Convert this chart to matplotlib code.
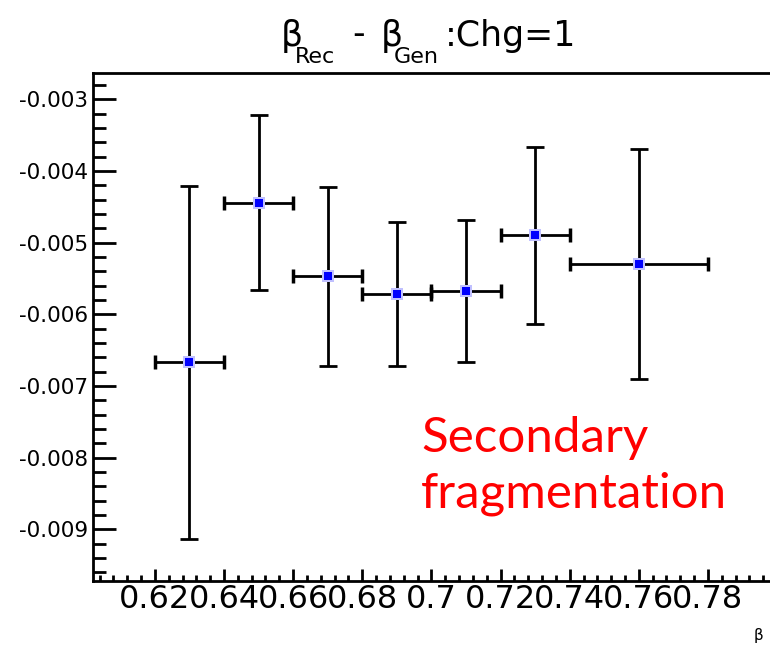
import matplotlib
matplotlib.use("Agg")
import matplotlib.pyplot as plt
import numpy as np
from matplotlib.ticker import FixedLocator, FixedFormatter, FuncFormatter

plt.rcParams['font.family'] = ['DejaVu Sans']
plt.rcParams['axes.unicode_minus'] = False

# beta bins (centres and half widths) and the mean residual per bin
beta_mid = [0.63, 0.65, 0.67, 0.69, 0.71, 0.73, 0.76]
beta_halfwidth = [0.01, 0.01, 0.01, 0.01, 0.01, 0.01, 0.02]
residual = [-0.00667, -0.00444, -0.00547, -0.005715, -0.005675, -0.00490, -0.00530]
residual_err = [0.00246, 0.00122, 0.00125, 0.00100, 0.00099, 0.00123, 0.00160]

xtick_vals = [0.62, 0.64, 0.66, 0.68, 0.70, 0.72, 0.74, 0.76, 0.78]
xtick_labels = ['0.62', '0.64', '0.66', '0.68', '0.7', '0.72', '0.74', '0.76', '0.78']
ytick_vals = [-0.003, -0.004, -0.005, -0.006, -0.007, -0.008, -0.009]

W, H = 770, 647
fig = plt.figure(figsize=(W / 100, H / 100), dpi=100)


def px(x, y):
    # pixel position (from top-left) -> figure fraction
    return x / W, 1 - y / H


ax = fig.add_axes([93 / W, 1 - 581 / H, (784 - 93) / W, (581 - 73.3) / H])
ax.set_xlim(0.6021, 0.802)
ax.set_ylim(-0.009721, -0.002637)

# error bars: vertical and horizontal drawn separately so the caps differ
ax.errorbar(beta_mid, residual, yerr=residual_err, fmt='none', ecolor='black',
            elinewidth=2, capsize=6.5, capthick=2, zorder=2)
ax.errorbar(beta_mid, residual, xerr=beta_halfwidth, fmt='none', ecolor='black',
            elinewidth=2, capsize=4.8, capthick=2.5, zorder=2)
ax.plot(beta_mid, residual, 's', ms=8.5, color='#c0c0ff', mew=0, zorder=3)
ax.plot(beta_mid, residual, 's', ms=6, color='#0000ff', mew=0, zorder=4)

for s in ax.spines.values():
    s.set_linewidth(2)

ax.xaxis.set_major_locator(FixedLocator(xtick_vals))
ax.xaxis.set_major_formatter(FixedFormatter(xtick_labels))
ax.xaxis.set_minor_locator(FixedLocator(np.arange(0.604, 0.8, 0.004)))
ax.yaxis.set_major_locator(FixedLocator(ytick_vals))
ax.yaxis.set_major_formatter(FuncFormatter(lambda v, p: f'{v:.3f}'))
ax.yaxis.set_minor_locator(FixedLocator(np.arange(-0.0096, -0.0026, 0.0002)))

ax.tick_params(axis='x', which='major', direction='in', length=8.6, width=2,
               labelsize=23, pad=2.5, top=False)
ax.tick_params(axis='x', which='minor', direction='in', length=4.3, width=2, top=False)
ax.tick_params(axis='y', which='major', direction='in', length=16.6, width=2,
               labelsize=15.5, pad=3.5, right=False)
ax.tick_params(axis='y', which='minor', direction='in', length=9.1, width=2, right=False)

# title: beta_Rec - beta_Gen : Chg=1
fig.text(*px(281, 46), 'β', fontsize=25, va='baseline')
fig.text(*px(295, 63), 'Rec', fontsize=16, va='baseline')
fig.text(*px(352, 44), '-', fontsize=25, va='baseline')
fig.text(*px(381, 46), 'β', fontsize=25, va='baseline')
fig.text(*px(394, 63), 'Gen', fontsize=16, va='baseline')
fig.text(*px(445, 46), ':Chg=1', fontsize=25, va='baseline')

# axis title
fig.text(*px(754, 640), 'β', fontsize=11, va='baseline')

fig.text(*px(421, 452), 'Secondary', fontsize=35.5, color='#ff0000',
         va='baseline', family='Lato')
fig.text(*px(421, 508), 'fragmentation', fontsize=35.5, color='#ff0000',
         va='baseline', family='Lato')

fig.savefig('out.png', dpi=100)
